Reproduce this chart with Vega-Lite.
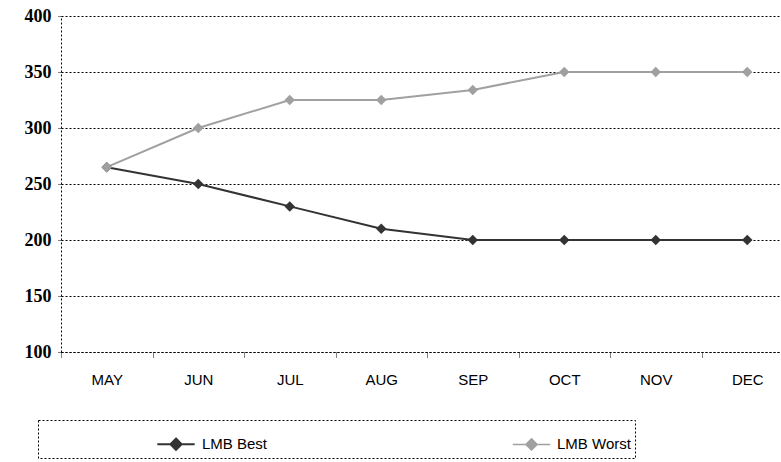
{
  "$schema": "https://vega.github.io/schema/vega-lite/v6.json",
  "width": 732,
  "height": 336,
  "autosize": {"type": "none"},
  "padding": {"left": 61, "top": 16, "right": 0, "bottom": 110},
  "background": "white",
  "data": {"values": [
    {"month": "MAY", "series": "LMB Best", "value": 265},
    {"month": "JUN", "series": "LMB Best", "value": 250},
    {"month": "JUL", "series": "LMB Best", "value": 230},
    {"month": "AUG", "series": "LMB Best", "value": 210},
    {"month": "SEP", "series": "LMB Best", "value": 200},
    {"month": "OCT", "series": "LMB Best", "value": 200},
    {"month": "NOV", "series": "LMB Best", "value": 200},
    {"month": "DEC", "series": "LMB Best", "value": 200},
    {"month": "MAY", "series": "LMB Worst", "value": 265},
    {"month": "JUN", "series": "LMB Worst", "value": 300},
    {"month": "JUL", "series": "LMB Worst", "value": 325},
    {"month": "AUG", "series": "LMB Worst", "value": 325},
    {"month": "SEP", "series": "LMB Worst", "value": 334},
    {"month": "OCT", "series": "LMB Worst", "value": 350},
    {"month": "NOV", "series": "LMB Worst", "value": 350},
    {"month": "DEC", "series": "LMB Worst", "value": 350}
  ]},
  "config": {
    "view": {"stroke": null},
    "axis": {"grid": false}
  },
  "encoding": {
    "x": {
      "field": "month", "type": "ordinal",
      "sort": ["MAY","JUN","JUL","AUG","SEP","OCT","NOV","DEC"],
      "scale": {"paddingInner": 0, "paddingOuter": 0},
      "axis": {
        "title": null, "labelAngle": 0,
        "labelFont": "Liberation Sans", "labelFontSize": 15, "labelColor": "#000",
        "labelPadding": 15,
        "tickBand": "extent", "tickSize": 5, "tickColor": "#000", "tickDash": [1,1],
        "domainColor": "#000", "domainDash": [2,2], "domainWidth": 1
      }
    },
    "y": {
      "field": "value", "type": "quantitative",
      "scale": {"domain": [100, 400], "nice": false, "zero": false},
      "axis": {
        "title": null, "values": [100,150,200,250,300,350,400],
        "grid": true, "gridColor": "#000", "gridDash": [2,2], "gridWidth": 1, "gridOpacity": 1,
        "labelFont": "Liberation Serif", "labelFontWeight": "bold", "labelFontSize": 18, "labelColor": "#000",
        "labelPadding": 6,
        "tickSize": 4, "tickColor": "#000", "tickDash": [1,1],
        "domainColor": "#000", "domainDash": [2,2], "domainWidth": 1
      }
    },
    "color": {
      "field": "series", "type": "nominal",
      "scale": {"domain": ["LMB Best", "LMB Worst"], "range": ["#333333", "#a0a0a0"]},
      "legend": {
        "title": null, "orient": "none", "legendX": -23, "legendY": 404,
        "direction": "horizontal",
        "symbolType": "M-1,0L-0.3,0M0.3,0L1,0M0,-0.3L0.3,0L0,0.3L-0.3,0Z",
        "symbolSize": 1400, "symbolStrokeWidth": 1.5,
        "symbolOffset": 114,
        "labelFont": "Liberation Sans", "labelFontSize": 15, "labelColor": "#000",
        "labelOffset": 6, "columnPadding": 130,
        "padding": 4,
        "strokeColor": "#000",
        "encode": {
          "legend": {"update": {"strokeDash": {"value": [2,2]}, "width": {"value": 800}}},
          "symbols": {"update": {
            "stroke": {"signal": "scale('color', datum.value)"},
            "fill": {"signal": "scale('color', datum.value)"},
            "opacity": {"value": 1}
          }}
        }
      }
    }
  },
  "layer": [
    {"mark": {"type": "line", "strokeWidth": 2}, "encoding": {"strokeWidth": {"field": "series", "type": "nominal", "scale": {"domain": ["LMB Best", "LMB Worst"], "range": [2, 1.5]}, "legend": null}}},
    {"mark": {"type": "point", "shape": "diamond", "filled": true, "size": 110, "opacity": 1}}
  ]
}
